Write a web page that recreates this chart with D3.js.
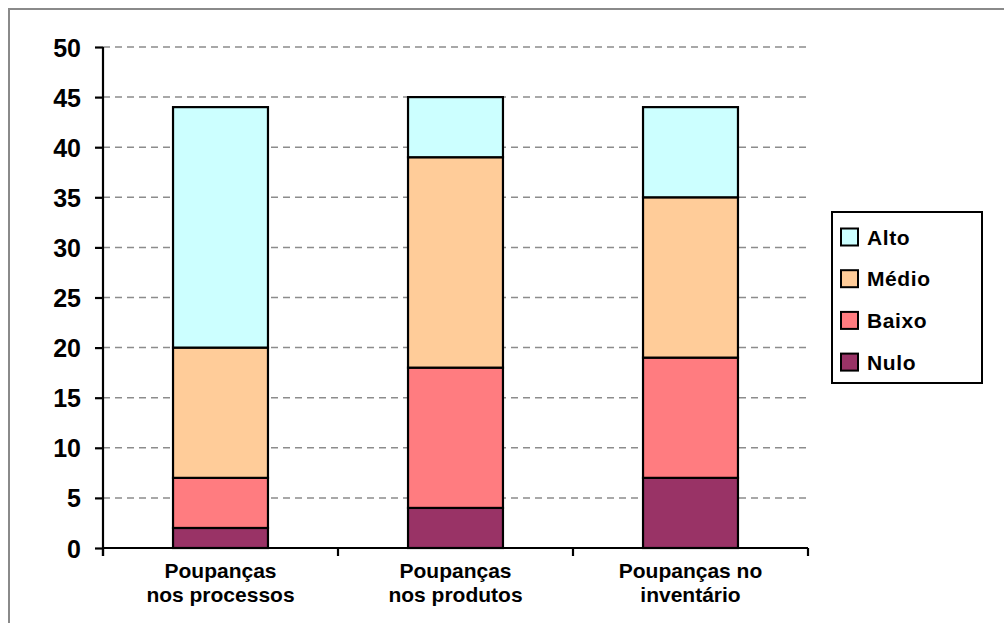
<!DOCTYPE html>
<html>
<head>
<meta charset="utf-8">
<script src="https://cdn.jsdelivr.net/npm/d3@7"></script>
<style>
  html, body { margin: 0; padding: 0; background: #fff; }
  svg { display: block; }
  text { font-family: "Liberation Sans", Arial, sans-serif; font-weight: bold; fill: #000; }
</style>
</head>
<body>
<svg id="chart" width="1004" height="623"></svg>
<script>
// Categories (two-line labels) and stacked series values, bottom to top
const categories = ["Poupanças nos processos", "Poupanças nos produtos", "Poupanças no inventário"];
const categoryLines = [["Poupanças", "nos processos"], ["Poupanças", "nos produtos"], ["Poupanças no", "inventário"]];
const seriesNames = ["Nulo", "Baixo", "Médio", "Alto"];
const nulo  = [2, 4, 7];
const baixo = [5, 14, 12];
const medio = [13, 21, 16];
const alto  = [24, 6, 9];
const yTicks = [0, 5, 10, 15, 20, 25, 30, 35, 40, 45, 50];
const colors = ["#993366", "#FF7C80", "#FFCC99", "#CCFFFF"];

const rows = categories.map((c, i) => ({
  cat: c, Nulo: nulo[i], Baixo: baixo[i], "Médio": medio[i], Alto: alto[i]
}));

const svg = d3.select("#chart");

// Outer frame (top and left edges visible)
svg.append("path")
  .attr("d", "M9,623 L9,9 L1004,9")
  .attr("fill", "none").attr("stroke", "#8a8a8a").attr("stroke-width", 2);

const plotLeft = 103, plotRight = 808, plotTop = 47, plotBottom = 548;

const x = d3.scaleBand().domain(categories).range([plotLeft, plotRight])
  .paddingInner(0.596).paddingOuter(0.298);
const y = d3.scaleLinear().domain([0, 50]).range([plotBottom, plotTop]);

// Dashed gridlines
svg.append("g").selectAll("line")
  .data(yTicks.filter(t => t > 0))
  .join("line")
  .attr("x1", plotLeft).attr("x2", plotRight)
  .attr("y1", d => y(d)).attr("y2", d => y(d))
  .attr("stroke", "#8c8c8c").attr("stroke-width", 1.5)
  .attr("stroke-dasharray", "7,5");

// Stacked bars
const stack = d3.stack().keys(seriesNames)(rows);
svg.append("g").selectAll("g")
  .data(stack)
  .join("g")
  .attr("fill", (d, i) => colors[i])
  .selectAll("rect")
  .data(d => d)
  .join("rect")
  .attr("x", d => x(d.data.cat))
  .attr("width", x.bandwidth())
  .attr("y", d => y(d[1]))
  .attr("height", d => y(d[0]) - y(d[1]))
  .attr("stroke", "#000").attr("stroke-width", 2.2);

// Y axis
const yAxis = svg.append("g").attr("transform", `translate(${plotLeft},0)`)
  .call(d3.axisLeft(y).tickValues(yTicks).tickSize(8).tickPadding(14));
yAxis.select(".domain").attr("d", `M0,${plotTop}V${plotBottom + 8}`)
  .attr("stroke", "#000").attr("stroke-width", 2.2);
yAxis.selectAll(".tick line").attr("stroke", "#000").attr("stroke-width", 2.2);
yAxis.selectAll(".tick text")
  .attr("font-size", 25).attr("font-weight", "bold")
  .attr("font-family", "'Liberation Sans', Arial, sans-serif")
  .attr("fill", "#1a1a1a").attr("dy", "0.36em");

// X axis baseline with category boundary ticks
const bounds = [plotLeft].concat(categories.map(c => x(c) + x.bandwidth() / 2 + x.step() / 2));
svg.append("line")
  .attr("x1", plotLeft).attr("x2", plotRight).attr("y1", plotBottom).attr("y2", plotBottom)
  .attr("stroke", "#000").attr("stroke-width", 2.2);
svg.append("g").selectAll("line")
  .data(bounds)
  .join("line")
  .attr("x1", d => d).attr("x2", d => d)
  .attr("y1", plotBottom).attr("y2", plotBottom + 8)
  .attr("stroke", "#000").attr("stroke-width", 2.2);

// Category labels, two lines each
const labelGroup = svg.append("g").attr("text-anchor", "middle");
categories.forEach((c, i) => {
  const cx = x(c) + x.bandwidth() / 2;
  categoryLines[i].forEach((line, j) => {
    labelGroup.append("text")
      .attr("x", cx)
      .attr("y", 578 + j * 23.5)
      .attr("font-size", 21)
      .text(line);
  });
});

// Legend
const legend = svg.append("g");
legend.append("rect")
  .attr("x", 832).attr("y", 212).attr("width", 150).attr("height", 171)
  .attr("fill", "#fff").attr("stroke", "#000").attr("stroke-width", 2);
const legendItems = seriesNames.slice().reverse();
const legendColors = colors.slice().reverse();
legendItems.forEach((name, i) => {
  const cy = 237 + i * 41.7;
  legend.append("rect")
    .attr("x", 841).attr("y", cy - 8.5).attr("width", 17).attr("height", 17)
    .attr("fill", legendColors[i]).attr("stroke", "#000").attr("stroke-width", 2);
  legend.append("text")
    .attr("x", 867).attr("y", cy).attr("dy", "0.36em")
    .attr("font-size", 21).attr("letter-spacing", "0.6px")
    .text(name);
});
</script>
</body>
</html>
